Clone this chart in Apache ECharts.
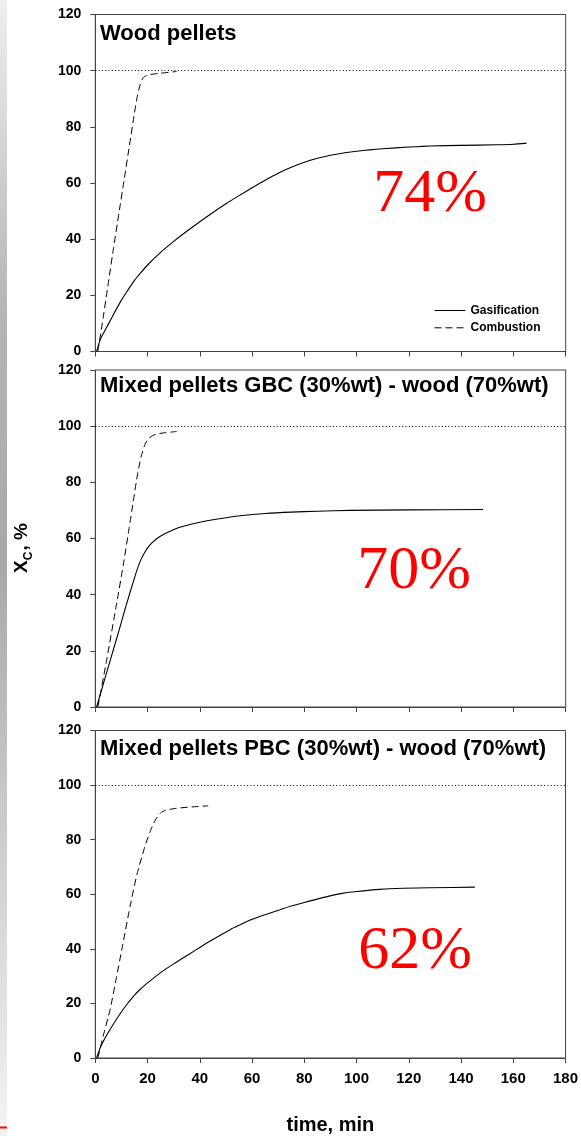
<!DOCTYPE html>
<html>
<head>
<meta charset="utf-8">
<script src="https://cdn.jsdelivr.net/npm/echarts@6/dist/echarts.min.js"></script>
<style>
html,body{margin:0;padding:0;background:#fff;}
#chart{width:581px;height:1136px;}
</style>
</head>
<body>
<div id="chart"></div>
<script>
// ---- data (time [min], X_C [%]) ----
var xTicks = [0, 20, 40, 60, 80, 100, 120, 140, 160, 180];
var yTicks = [0, 20, 40, 60, 80, 100, 120];
var panelTitles = ['Wood pellets', 'Mixed pellets GBC (30%wt) - wood (70%wt)', 'Mixed pellets PBC (30%wt) - wood (70%wt)'];
var panelLabels = ['74%', '70%', '62%'];
var seriesNames = ['Gasification', 'Combustion'];
var referenceLevel = 100;

var woodGas = [[0.5,0],[2,4.5],[4,8],[6,11.5],[8,15],[10,18.3],[12,21.2],[15,25.3],[17.1,27.7],[20,30.8],[25,35.3],[30,39.2],[35,42.8],[40,46.2],[45,49.5],[50,52.6],[55,55.5],[60,58.3],[65,61],[70,63.5],[75,65.6],[80,67.4],[85,68.8],[90,69.9],[95,70.7],[100,71.3],[105,71.8],[110,72.2],[120,72.8],[128,73.2],[140,73.4],[153.6,73.6],[160,73.8],[165,74.2]];
var woodComb = [[1,0],[3,12],[5,24.5],[7,37],[9,49],[11,61],[13,73],[15,85],[16,90.5],[17,94.5],[18,97],[19,98],[21,98.6],[25,99.1],[31.1,99.7]];

var gbcGas = [[0.5,0],[3,8],[6,17.5],[9,27],[12,36.8],[15,46],[17,51.5],[19,55.2],[21,57.8],[23.5,59.9],[26,61.4],[28.6,62.6],[32,63.9],[36.2,65],[40,65.8],[45,66.7],[50,67.4],[55.4,68.1],[65,68.9],[75,69.4],[85,69.7],[97.4,70],[120,70.2],[148.4,70.3]];
var gbcComb = [[1,0],[4.4,17],[8,36],[10.7,50.5],[13,64],[14.5,73],[16,82],[17.5,89],[19,93.5],[20.5,95.7],[22,96.7],[24,97.3],[27,97.7],[31.1,98.1]];

var pbcGas = [[0.5,0],[2,4],[4,7.8],[6,11],[9,15.5],[12,19.5],[15,23],[17.1,25.1],[20,27.5],[25,31.3],[30,34.5],[36.2,38.2],[40,40.5],[45,43.4],[51.6,47],[55,48.6],[60,50.8],[65,52.5],[70.7,54.3],[75,55.7],[80,57],[89.8,59.4],[95,60.4],[100,61],[108.9,61.8],[118,62.2],[128,62.4],[145.3,62.6]];
var pbcComb = [[1,0],[3,8],[5.6,17.5],[8,29],[10.5,41.5],[13.3,55.5],[16,67.5],[19,77.5],[21,83],[23,87.2],[25,89.8],[27,90.8],[31.1,91.5],[37,92],[43.2,92.4]];

var panels = [[woodGas, woodComb], [gbcGas, gbcComb], [pbcGas, pbcComb]];

// ---- layout ----
var FONT = 'Liberation Sans, Arial, sans-serif';
var gridTops = [14.5, 370, 730.5];
var gridH = 337;
var gridLeft = 95.3, gridRight = 15.3;
var titleY = [33.5, 385.5, 749];
var labelPos = [[430,195],[414,572],[415,952]];

var grids = [], xAxes = [], yAxes = [], series = [], graphics = [];

gridTops.forEach(function (top, i) {
  grids.push({left: gridLeft, right: gridRight, top: top, height: gridH, show: true,
    borderColor: '#444', borderWidth: 1, backgroundColor: 'transparent'});
  xAxes.push({
    type: 'value', gridIndex: i, min: xTicks[0], max: xTicks[xTicks.length-1], interval: xTicks[1]-xTicks[0],
    axisLine: {show: true, lineStyle: {color: '#444', width: 1}},
    axisTick: {show: true, inside: false, length: 5, lineStyle: {color: '#444'}},
    splitLine: {show: false},
    axisLabel: {show: i === 2, color: '#000', fontSize: 15, fontWeight: 'bold', fontFamily: FONT, margin: 13},
    name: i === 2 ? 'time, min' : '', nameLocation: 'middle', nameGap: 57,
    nameTextStyle: {color: '#000', fontSize: 20, fontWeight: 'bold', fontFamily: FONT}
  });
  yAxes.push({
    type: 'value', gridIndex: i, min: yTicks[0], max: yTicks[yTicks.length-1], interval: yTicks[1]-yTicks[0],
    axisLine: {show: true, lineStyle: {color: '#444', width: 1}},
    axisTick: {show: true, inside: false, length: 5, lineStyle: {color: '#444'}},
    splitLine: {show: false},
    axisLabel: {color: '#000', fontSize: 14, fontWeight: 'bold', fontFamily: FONT, margin: 14}
  });
  var gas = panels[i][0], comb = panels[i][1];
  series.push({
    name: seriesNames[0], type: 'line', xAxisIndex: i, yAxisIndex: i, data: gas,
    showSymbol: false, symbol: 'none', smooth: 0.2,
    lineStyle: {color: '#000', width: 1.1, type: 'solid'}, itemStyle: {color: 'rgba(0,0,0,0)'},
    markLine: {silent: true, symbol: 'none', label: {show: false},
      lineStyle: {color: '#000', width: 1, type: [1, 2.3]},
      data: [{yAxis: referenceLevel}]}
  });
  series.push({
    name: seriesNames[1], type: 'line', xAxisIndex: i, yAxisIndex: i, data: comb,
    showSymbol: false, symbol: 'none', smooth: 0.2,
    lineStyle: {color: '#000', width: 1, type: [7, 4]}, itemStyle: {color: 'rgba(0,0,0,0)'}
  });
  graphics.push({type: 'text', left: 100, y: titleY[i],
    style: {text: panelTitles[i], fill: '#000', font: 'bold 22px ' + FONT, verticalAlign: 'middle'}});
  graphics.push({type: 'text', x: labelPos[i][0], y: labelPos[i][1],
    style: {text: panelLabels[i], fill: '#ff0000', font: '62px Liberation Serif, Times New Roman, serif',
      align: 'center', verticalAlign: 'middle'}});
});

// y-axis title
graphics.push({type: 'text', x: 20, y: 548, rotation: Math.PI / 2,
  style: {text: '{a|X}{b|C}{a|, %}', align: 'center', verticalAlign: 'middle',
    rich: {
      a: {fontSize: 19, fontWeight: 'bold', fontFamily: FONT, fill: '#000', lineHeight: 22, verticalAlign: 'bottom'},
      b: {fontSize: 12, fontWeight: 'bold', fontFamily: FONT, fill: '#000', lineHeight: 22, verticalAlign: 'bottom', padding: [0, 1, -4, 0]}
    }}});
// decorative left stripe
graphics.push({type: 'rect', shape: {x: 0, y: 0, width: 7, height: 1136}, silent: true,
  style: {fill: new echarts.graphic.LinearGradient(0, 0, 0, 1, [
    {offset: 0, color: '#efefef'}, {offset: 0.28, color: '#b4b4b4'}, {offset: 0.5, color: '#a9a9a9'},
    {offset: 0.75, color: '#cfcfcf'}, {offset: 1, color: '#f3f3f3'}])}});
graphics.push({type: 'rect', shape: {x: 0, y: 1126.5, width: 7, height: 2}, silent: true, style: {fill: '#ff0000'}});

var chart = echarts.init(document.getElementById('chart'), null, {renderer: 'canvas'});
chart.setOption({
  animation: false,
  backgroundColor: '#fff',
  grid: grids,
  xAxis: xAxes,
  yAxis: yAxes,
  legend: {
    data: seriesNames, orient: 'vertical', left: 429, top: 299.5,
    itemWidth: 31, itemHeight: 12, itemGap: 5.3,
    itemStyle: {opacity: 0},
    lineStyle: {width: 1},
    textStyle: {color: '#000', fontSize: 12, fontWeight: 'bold', fontFamily: FONT},
    selectedMode: false
  },
  series: series,
  graphic: graphics
});
</script>
</body>
</html>
